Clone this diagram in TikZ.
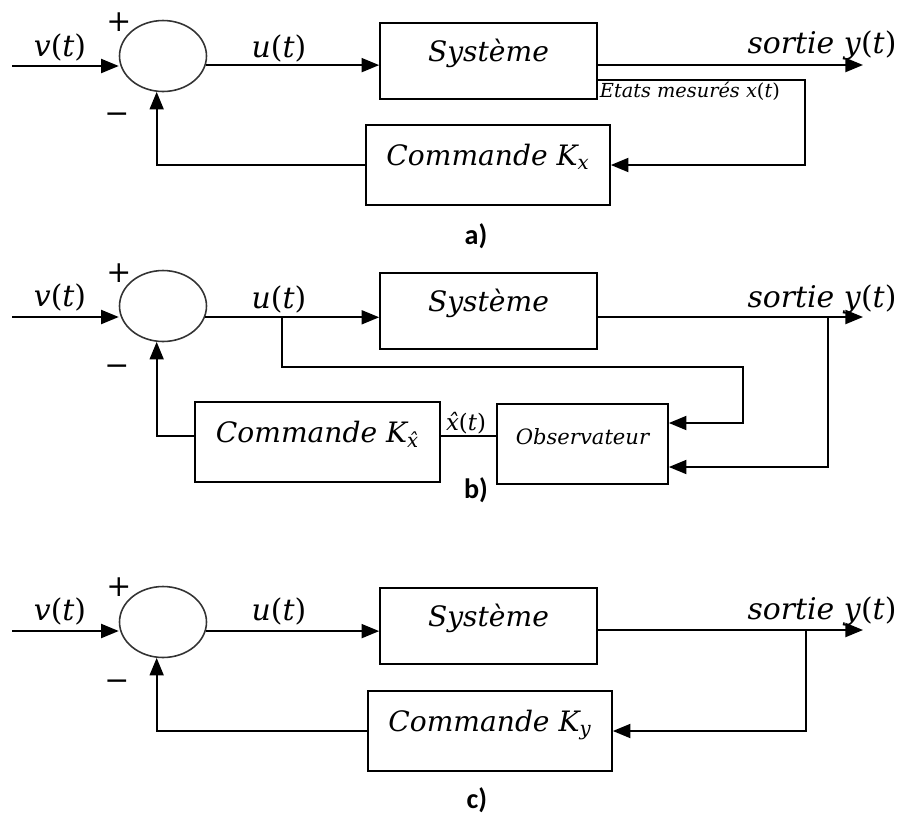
\documentclass[tikz,border=0pt]{standalone}
\usepackage{fontspec}
\setmainfont{DejaVu Serif}
\newfontfamily\tagfont{Carlito}
\usetikzlibrary{arrows.meta,shapes.geometric}
\newcommand{\sig}[1]{\textit{#1}(\textit{t})}

\begin{document}
\begin{tikzpicture}[x=0.02cm,y=-0.02cm]
      \tikzset { sum/.style = { shape=ellipse,draw=black!80,line width=0.9pt,minimum width=1.74cm,minimum height=1.42cm } }
      \tikzset { block/.style = { draw,line width=1pt,text height=0.35cm,text depth=0.35cm,font=\fontsize{16}{18}\selectfont\itshape } }
      \tikzset { edge/.style = { -{Triangle[length=10pt,width=8pt]},line width=1pt } }
      \tikzset { wire/.style = { line width=1pt } }
      \tikzset { lab/.style = { font=\fontsize{17}{19}\selectfont } }
      \tikzset { tag/.style = { font=\tagfont\bfseries\fontsize{16}{18}\selectfont } }

      \useasboundingbox (0,0) rectangle (903,816);

      % a)
      \node[sum] (suma) at (163,56) {};
      \node[block,minimum width=4.34cm,minimum height=1.52cm] (sysa) at (488.5,61) {Système};
      \node[block,minimum width=4.88cm,minimum height=1.6cm] (cmda) at (488,165) {Commande K\textsubscript{x}};

      \coordinate (va) at (12,66);
      \coordinate (ya) at (863,65);
      \coordinate (xa) at (805,80);

      \draw[edge] (va) to (va -| suma.west);
      \draw[edge] (suma.-12) to (suma.-12 -| sysa.west);
      \draw[edge] (ya -| sysa.east) to (ya);
      \draw[edge] (xa -| sysa.east) -- (xa) |- (cmda.east);
      \draw[edge] (cmda.west) -| (suma.260);

      \node[lab] (vla) at (60,47) {\sig{v}};
      \node[lab] (ula) at (279,48) {\sig{u}};
      \node[lab] (yla) at (822,45) {\textit{sortie} \sig{y}};
      \node[lab] (pla) at (119,22) {+};
      \node[lab] (mla) at (117,118) {−};
      \node[font=\fontsize{11}{13}\selectfont,anchor=north west,inner sep=1pt] (xla) at (xa -| sysa.east) {\textit{Etats mesurés x}(\textit{t})};
      \node[tag] (taga) at (476,236) {a)};

      % b)
      \node[sum] (sumb) at (163,306) {};
      \node[block,minimum width=4.34cm,minimum height=1.52cm] (sysb) at (488.5,311) {Système};
      \node[block,minimum width=4.9cm,minimum height=1.6cm] (cmdb) at (317.5,442) {Commande K\textsubscript{\^{x}}};
      \node[block,minimum width=3.42cm,minimum height=1.6cm,font=\fontsize{12}{14}\selectfont\itshape] (obsb) at (582.5,444) {Observateur};

      \coordinate (vb) at (12,317);
      \coordinate (ub) at (282,317);
      \coordinate (ur) at (743,367);
      \coordinate (yb) at (863,317);
      \coordinate (yr) at (828,317);

      \draw[edge] (vb) to (vb -| sumb.west);
      \draw[edge] (sumb.-15) to (sumb.-15 -| sysb.west);
      \draw[edge] (ub) |- (ur) |- ([yshift=0.42cm]obsb.east);
      \draw[edge] (yb -| sysb.east) to (yb);
      \draw[edge] (yr) |- ([yshift=-0.46cm]obsb.east);
      \draw[wire] ([yshift=0.12cm]cmdb.east) to ([yshift=0.12cm]cmdb.east -| obsb.west);
      \draw[edge] ([yshift=0.12cm]cmdb.west) -| (sumb.260);

      \node[lab] (vlb) at (60,297) {\sig{v}};
      \node[lab] (ulb) at (279,299) {\sig{u}};
      \node[lab] (ylb) at (822,299) {\textit{sortie} \sig{y}};
      \node[lab] (plb) at (119,273) {+};
      \node[lab] (mlb) at (117,370) {−};
      \node[font=\fontsize{13}{15}\selectfont] (xhb) at (466,423) {\textit{\^{x}}(\textit{t})};
      \node[tag] (tagb) at (476,490) {b)};

      % c)
      \node[sum] (sumc) at (163,622) {};
      \node[block,minimum width=4.34cm,minimum height=1.52cm] (sysc) at (488.5,626) {Système};
      \node[block,minimum width=4.88cm,minimum height=1.6cm] (cmdc) at (490,731) {Commande K\textsubscript{y}};

      \coordinate (vc) at (12,631);
      \coordinate (yc) at (863,630);
      \coordinate (yrc) at (806,630);

      \draw[edge] (vc) to (vc -| sumc.west);
      \draw[edge] (sumc.-12) to (sumc.-12 -| sysc.west);
      \draw[edge] (yc -| sysc.east) to (yc);
      \draw[edge] (yrc) |- (cmdc.east);
      \draw[edge] (cmdc.west) -| (sumc.260);

      \node[lab] (vlc) at (60,611) {\sig{v}};
      \node[lab] (ulc) at (279,611) {\sig{u}};
      \node[lab] (ylc) at (822,611) {\textit{sortie} \sig{y}};
      \node[lab] (plc) at (119,587) {+};
      \node[lab] (mlc) at (117,685) {−};
      \node[tag] (tagc) at (477,800) {c)};

    \end{tikzpicture}
\end{document}
